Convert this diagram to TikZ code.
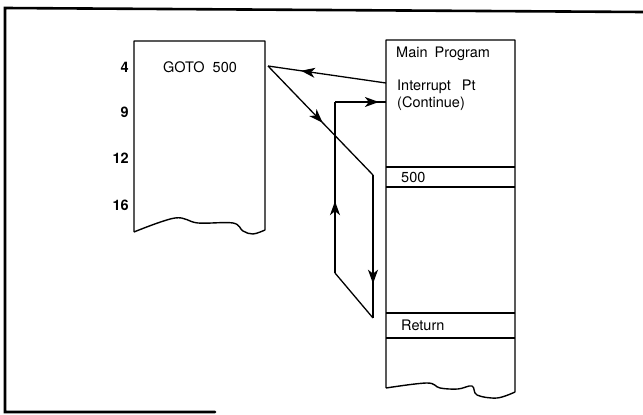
\documentclass[tikz,border=0pt]{standalone}
\usepackage{fontspec}
\setmainfont{TeX Gyre Heros}
\usetikzlibrary{arrows.meta,decorations.markings}
\tikzset{
  frameline/.style={line width=2.6pt, line cap=round},
  sheet/.style={line width=1.4pt, line join=round},
  flow/.style={line width=1.3pt},
  midarrow/.style={postaction={decorate}, decoration={markings,
      mark=at position #1 with {\arrow{Stealth[length=14pt,width=10pt,inset=4pt]}}}},
  txt/.style={inner sep=0pt, anchor=base west, font=\fontsize{14.5}{16}\selectfont},
  num/.style={inner sep=0pt, anchor=base east, font=\fontsize{14.5}{16}\selectfont\bfseries},
}
\begin{document}
\begin{tikzpicture}[x=1pt, y=-1pt]
\useasboundingbox (0,0) rectangle (643,415);
% frame
\draw[frameline] (643,12) -- (5,8) -- (5,412) -- (215,412);
% left sheet
\draw[sheet] (265,230) -- (265,41) -- (134,41) -- (134,232)
  plot[smooth, tension=0.6] coordinates {(134,232) (175,218) (198,223) (233,223) (243,231) (253,234) (265,230)};
% main column
\draw[sheet] (515,392) -- (515,40) -- (386,40) -- (386,388)
  plot[smooth, tension=0.6] coordinates {(386,388) (427,383) (440,388) (458,389) (472,386) (477,395) (497,398) (515,392)};
\draw[sheet] (386,167) -- (515,167);
\draw[sheet] (386,187) -- (515,187);
\draw[sheet] (386,313) -- (515,313);
\draw[sheet] (386,338) -- (515,338);
% texts
\node[num] (n4) at (129,72) {4};
\node[num] (n9) at (129,117) {9};
\node[num] (n12) at (129,163) {12};
\node[num] (n16) at (129,210) {16};
\node[txt] (goto) at (163,72) {GOTO\hspace{8pt}500};
\node[txt] (main) at (396,57) {Main\hspace{7pt}Program};
\node[txt] (intr) at (397,90) {Interrupt\hspace{11pt}Pt};
\node[txt] (cont) at (397,107) {(Continue)};
\node[txt] (l500) at (401,182) {500};
\node[txt] (ret) at (401,330) {Return};
% connector points
\coordinate (gp) at (268,66);
\coordinate (ip) at (386,83);
\coordinate (cp) at (386,102);
\coordinate (d1) at (373,175);
\coordinate (d2) at (373,318);
\coordinate (u1) at (335,273);
\coordinate (u2) at (335,102);
% connectors
\draw[flow, midarrow=0.72] (ip) -- (gp);
\draw[flow, midarrow=0.52] (gp) -- (d1);
\draw[flow, midarrow=0.76] (d1) -- (d2);
\draw[flow] (d2) -- (u1);
\draw[flow, midarrow=0.42] (u1) -- (u2);
\draw[flow, midarrow=0.86] (u2) -- (cp);
\end{tikzpicture}
\end{document}
